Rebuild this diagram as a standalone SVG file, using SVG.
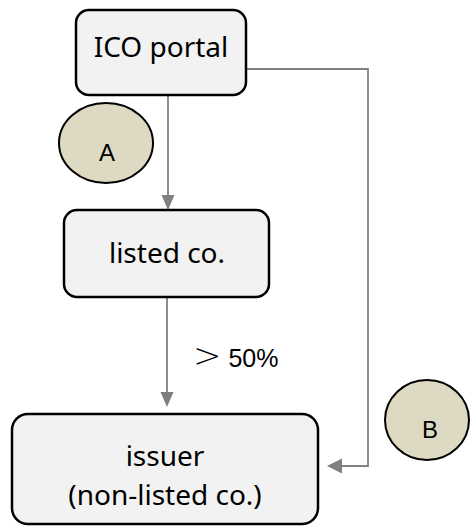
<svg xmlns="http://www.w3.org/2000/svg" width="470" height="527" viewBox="0 0 470 527">
<defs>
<marker id="arr" markerWidth="10" markerHeight="10" viewBox="0 0 10 10" refX="10" refY="5" orient="auto" markerUnits="userSpaceOnUse" style="overflow:visible">
<path d="M0,0 L10,5 L0,10 Z" fill="#7f7f7f" transform="scale(1.5)"/>
</marker>
<style>
.box{fill:#f2f2f2;stroke:#000;stroke-width:2.5}
.lbl{font-family:"Noto Sans","Open Sans",sans-serif;font-size:28px;fill:#000;text-anchor:middle}
.ell{fill:#ddd9c3;stroke:#000;stroke-width:2}
.el{font-family:"Liberation Sans",Arial,sans-serif;font-size:24px;fill:#000;text-anchor:middle}
.con{fill:none;stroke:#808080;stroke-width:1.8}
.ah{fill:#7f7f7f}
</style>
</defs>
<g id="connectors">
<line class="con" x1="168" y1="96" x2="168" y2="196"/>
<path class="ah" d="M161.5,195 L174.5,195 L168,210 Z"/>
<line class="con" x1="167" y1="297" x2="167" y2="393"/>
<path class="ah" d="M160.5,392 L173.5,392 L167,407 Z"/>
<polyline class="con" points="246,69 368,69 368,466 341,466"/>
<path class="ah" d="M342,458.5 L342,473.5 L327,466 Z"/>
<text x="193" y="367" font-family="'Liberation Sans',Arial,sans-serif" font-size="25" fill="#000"><tspan font-size="34" font-family="'DejaVu Sans',sans-serif" font-weight="200">&gt;</tspan> 50%</text>
</g>
<g id="ico-portal">
<rect class="box" x="76" y="10" width="170" height="85" rx="13"/>
<text class="lbl" x="161" y="57">ICO portal</text>
</g>
<g id="listed-co">
<rect class="box" x="64" y="210" width="205" height="87" rx="13"/>
<text class="lbl" x="167" y="263">listed co.</text>
</g>
<g id="issuer">
<rect class="box" x="12" y="414" width="306" height="110" rx="16"/>
<text class="lbl" x="165" y="466">issuer</text>
<text class="lbl" x="165" y="505">(non-listed co.)</text>
</g>
<g id="A">
<ellipse class="ell" cx="106" cy="143" rx="47" ry="40"/>
<text class="el" x="107" y="161">A</text>
</g>
<g id="B">
<ellipse class="ell" cx="427" cy="420" rx="42" ry="40"/>
<text class="el" x="430" y="438">B</text>
</g>
</svg>
